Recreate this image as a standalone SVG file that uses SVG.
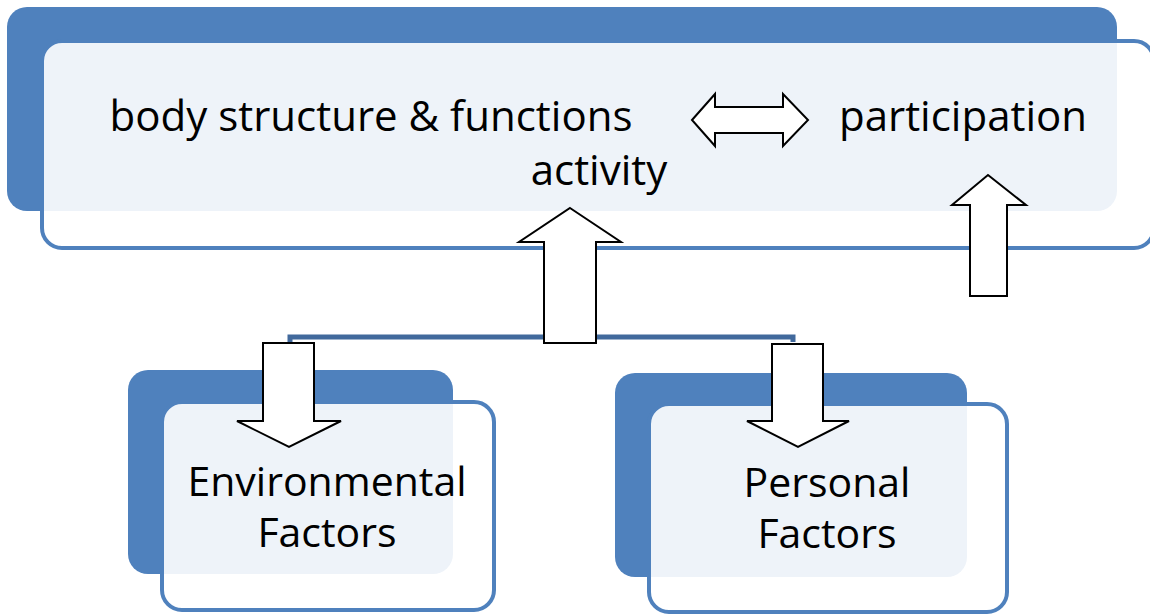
<svg xmlns="http://www.w3.org/2000/svg" width="1150" height="615" viewBox="0 0 1150 615">
<style>
.back{fill:#4F81BD;}
.front{fill:#FFFFFF;fill-opacity:0.9;stroke:#4F81BD;stroke-width:4;}
.lbl{font-family:"Open Sans","Noto Sans",sans-serif;font-size:41px;fill:#000;text-anchor:middle;}
.big{font-size:42px;}
.arrow{fill:#FFFFFF;stroke:#000;stroke-width:2;stroke-linejoin:miter;}
.conn{fill:none;stroke:#41699C;stroke-width:5;}
</style>
<rect width="1150" height="615" fill="#FFFFFF"/>
<g id="node-top">
<rect class="back" x="7" y="7" width="1110" height="204" rx="20"/>
<rect class="front" x="42" y="41" width="1112" height="207" rx="20"/>
<text class="lbl big" x="371" y="131">body structure &amp; functions</text>
<text class="lbl big" x="599" y="185">activity</text>
<text class="lbl big" x="963" y="131">participation</text>
</g>
<g id="node-env">
<rect class="back" x="128" y="370" width="325" height="204" rx="20"/>
<rect class="front" x="162" y="402" width="332" height="208" rx="20"/>
<text class="lbl" x="327" y="496">Environmental</text>
<text class="lbl" x="327" y="547">Factors</text>
</g>
<g id="node-pers">
<rect class="back" x="615" y="373" width="352" height="204" rx="20"/>
<rect class="front" x="649" y="404" width="358" height="208" rx="20"/>
<text class="lbl" x="827" y="497">Personal</text>
<text class="lbl" x="827" y="548">Factors</text>
</g>
<g id="connectors">
<path class="conn" d="M290 343 V337 H793 V342"/>
<polygon class="arrow" points="692,120 715,94 715,107 783,107 783,94 808,120 783,146 783,133 715,133 715,146"/>
<polygon class="arrow" points="570,208 621,242 596,242 596,343 544,343 544,242 519,242"/>
<polygon class="arrow" points="988,175 1026,205 1007,205 1007,296 970,296 970,205 952,205"/>
<polygon class="arrow" points="263,343 314,343 314,421 341,421 289,447 237,421 263,421"/>
<polygon class="arrow" points="772,344 823,344 823,421 849,421 798,447 747,421 772,421"/>
</g>
</svg>
